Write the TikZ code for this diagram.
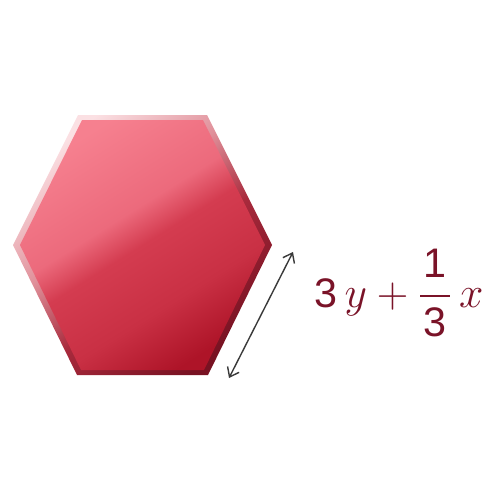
\documentclass[tikz,border=0pt]{standalone}
\usepackage{amsmath}
\usepackage{fontspec}
\newfontfamily\digitfont{Liberation Sans}
\usetikzlibrary{arrows.meta}
\definecolor{txtred}{HTML}{7A1328}
\definecolor{arrowgray}{HTML}{3A3A3A}
\definecolor{hA}{HTML}{F6808F}
\definecolor{hB}{HTML}{EC6A7C}
\definecolor{hC}{HTML}{D43C50}
\definecolor{hD}{HTML}{C93044}
\definecolor{hE}{HTML}{AE1428}
\definecolor{bA}{HTML}{FBE0E3}
\definecolor{bB}{HTML}{E0909A}
\definecolor{bC}{HTML}{A82A3C}
\definecolor{bD}{HTML}{781222}
\pgfdeclarehorizontalshading{hexin}{100bp}{color(0bp)=(hA); color(25bp)=(hA); color(43bp)=(hB); color(50bp)=(hC); color(63bp)=(hD); color(75bp)=(hE); color(100bp)=(hE)}
\pgfdeclarehorizontalshading{hexout}{100bp}{color(0bp)=(bA); color(25bp)=(bA); color(42bp)=(bB); color(56bp)=(bC); color(75bp)=(bD); color(100bp)=(bD)}
\tikzset{
  outerhex/.style={shading=hexout, shading angle=-50},
  innerhex/.style={shading=hexin, shading angle=-58},
  dimarrow/.style={draw=arrowgray, line width=0.8pt, {Straight Barb[length=1.7mm,width=2.6mm]}-{Straight Barb[length=1.7mm,width=2.6mm]}},
  formula/.style={text=txtred, inner sep=0pt, font=\fontsize{23.5}{26}\selectfont}
}
\begin{document}
\begin{tikzpicture}[x=0.2mm,y=-0.2mm]
\useasboundingbox (0,0) rectangle (500,500);
\shade[outerhex] (13,245)--(78,115)--(207,115)--(272,245)--(208,375)--(77,375)--cycle;
\shade[innerhex] (20,245)--(82,120)--(203,120)--(265,245)--(204,370)--(81,370)--cycle;
\coordinate (a1) at (293,252);
\coordinate (a2) at (229,378);
\draw[dimarrow] (a1) -- (a2);
\node[formula, anchor=base west] (lbl) at (314,307) {$\text{\digitfont 3}\,y+\dfrac{\hspace{0.08em}\text{\digitfont 1}\hspace{0.08em}}{\hspace{0.08em}\text{\digitfont 3}\hspace{0.08em}}\,x$};
\end{tikzpicture}
\end{document}
